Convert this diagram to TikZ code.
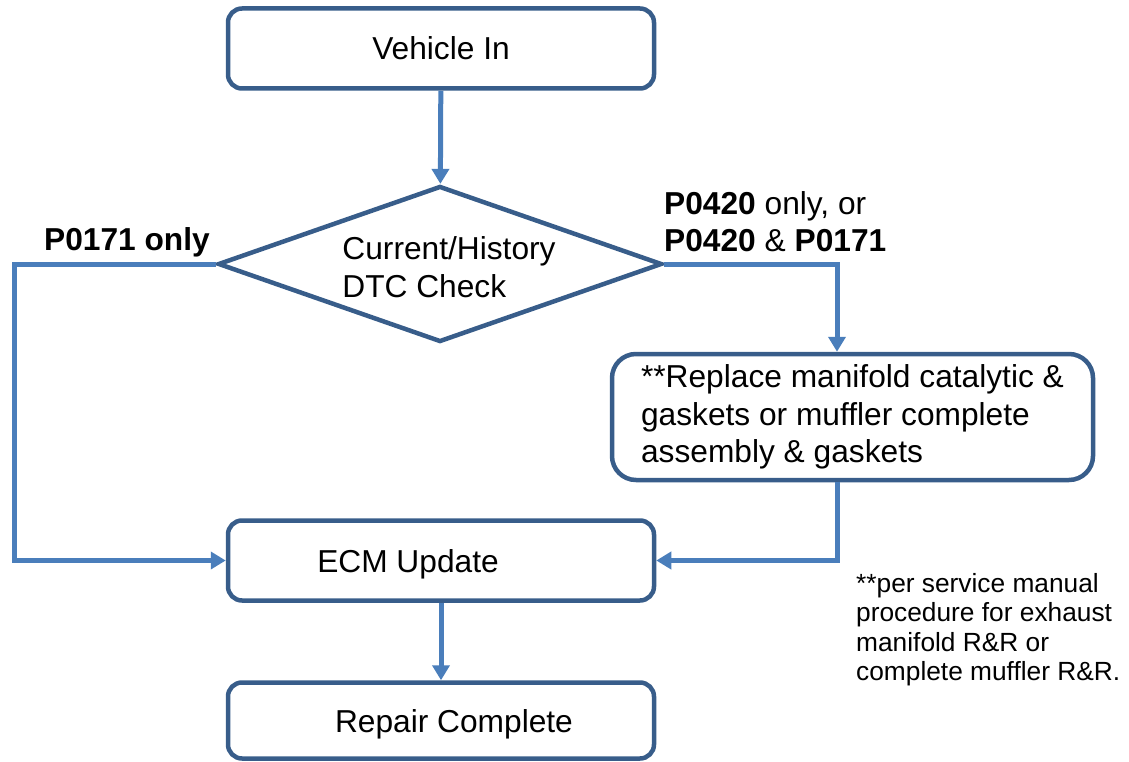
\documentclass[tikz,border=0pt]{standalone}
\usepackage{fontspec}
\setmainfont{Liberation Sans}
\usetikzlibrary{arrows.meta,shapes.geometric}

\definecolor{boxblue}{HTML}{385D8A}
\definecolor{linkblue}{HTML}{4A7EBB}

\tikzset{
  big/.style={font=\fontsize{31.7}{37.5}\selectfont},
  small/.style={font=\fontsize{26.3}{29.5}\selectfont},
  stepbox/.style={big, draw=boxblue, line width=4.5pt, rounded corners=14pt,
    minimum width=426pt, minimum height=80pt, inner sep=0pt},
  check/.style={draw=boxblue, line width=4.5pt, diamond,
    minimum width=444pt, minimum height=156pt, inner sep=0pt},
  link/.style={draw=linkblue, line width=5pt, -{Triangle[width=17pt,length=15pt]}},
}

\begin{document}
\begin{tikzpicture}[x=1pt,y=-1pt]
  \useasboundingbox (0,0) rectangle (1129,762);

  \node[stepbox] (vin) at (441,48.5) {Vehicle In};
  \node[check] (dtc) at (440,264)
    [label={[big,align=left,xshift=9pt,yshift=-3pt]center:Current/History\\DTC Check}] {};
  \node[stepbox, rounded corners=24pt, minimum width=481pt, minimum height=126pt,
    align=left] (rep) at (852.5,417)
    {**Replace manifold catalytic \&\\gaskets or muffler complete\\assembly \& gaskets};
  \node[stepbox] (ecm) at (441,560.5)
    [label={[big,xshift=-33pt,yshift=-4pt]center:ECM Update}] {};
  \node[stepbox, minimum height=76pt] (fin) at (441,720.5)
    [label={[big,xshift=13pt,yshift=-4pt]center:Repair Complete}] {};

  % branch labels
  \node[big, anchor=base west, inner sep=0pt] (p0171) at (44,250) {\textbf{P0171 only}};
  \node[big, anchor=north west, inner sep=0pt, align=left] (p0420) at (664,191)
    {\textbf{P0420} only, or\\\textbf{P0420} \& \textbf{P0171}};

  \node[small, anchor=north west, inner sep=0pt, align=left] (note) at (856,573)
    {**per service manual\\procedure for exhaust\\manifold R\&R or\\complete muffler R\&R.};

  \coordinate (lbend) at (14,264);
  \coordinate (rbend) at (837,264);

  \draw[link] (vin) -- (dtc);
  \draw[link] (dtc.west) -- (lbend) |- (ecm.west);
  \draw[link] (dtc.east) -- (rbend) -- (rbend |- rep.north);
  \draw[link] (rbend |- rep.south) |- (ecm.east);
  \draw[link] (ecm) -- (fin);
\end{tikzpicture}
\end{document}
